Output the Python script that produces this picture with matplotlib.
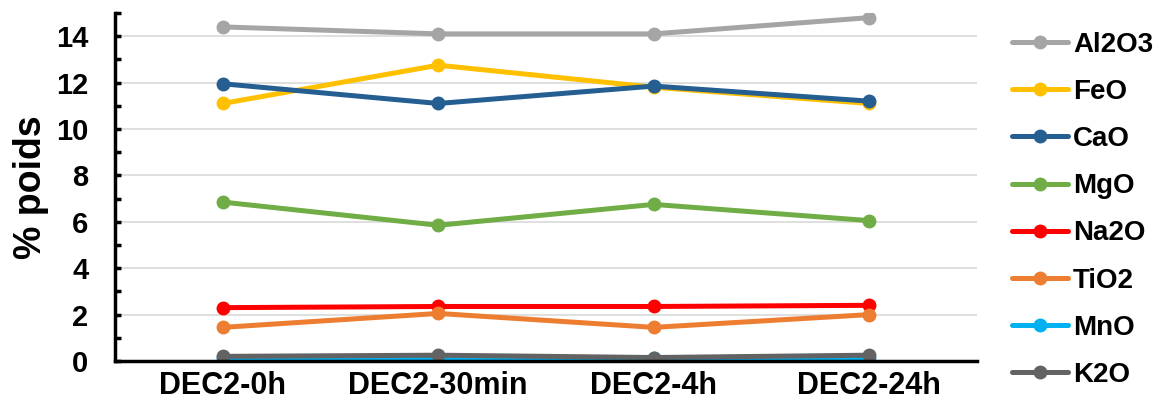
import matplotlib.pyplot as plt
from matplotlib.ticker import MultipleLocator

plt.rcParams['font.family'] = ['Liberation Sans', 'DejaVu Sans']
plt.rcParams['font.weight'] = 'bold'

samples = ["DEC2-0h", "DEC2-30min", "DEC2-4h", "DEC2-24h"]

al2o3 = [14.4, 14.1, 14.1, 14.8]
feo = [11.1, 12.75, 11.8, 11.1]
cao = [11.95, 11.1, 11.85, 11.2]
mgo = [6.85, 5.85, 6.75, 6.05]
na2o = [2.3, 2.35, 2.35, 2.4]
tio2 = [1.45, 2.05, 1.45, 2.0]
mno = [0.15, 0.15, 0.15, 0.15]
k2o = [0.2, 0.25, 0.15, 0.25]

series = [
    ("Al2O3", al2o3, "#A5A5A5"),
    ("FeO", feo, "#FFC000"),
    ("CaO", cao, "#255E91"),
    ("MgO", mgo, "#70AD47"),
    ("Na2O", na2o, "#FF0000"),
    ("TiO2", tio2, "#ED7D31"),
    ("MnO", mno, "#00B0F0"),
    ("K2O", k2o, "#636363"),
]

fig = plt.figure(figsize=(11.62, 4.15), dpi=100)
ax = fig.add_axes([115 / 1162, 54 / 415, 862 / 1162, 348 / 415])

x = list(range(len(samples)))
for name, vals, col in series:
    ax.plot(x, vals, color=col, lw=3.6, marker='o', ms=9, label=name,
            solid_capstyle='round')

ax.set_xlim(-0.5, len(samples) - 0.5)
ax.set_ylim(0, 15)
ax.yaxis.set_major_locator(MultipleLocator(2))
ax.yaxis.set_minor_locator(MultipleLocator(1))
ax.set_yticks(range(0, 15, 2))
ax.grid(axis='y', color='#D9D9D9', lw=1.2)
ax.set_axisbelow(True)

ax.set_xticks(x)
ax.set_xticklabels(samples, fontsize=22, fontweight='bold')
ax.tick_params(axis='x', length=0, pad=7)
ax.tick_params(axis='y', which='major', direction='in', length=4, width=2.5,
               labelsize=21, pad=19)
ax.tick_params(axis='y', which='minor', direction='in', length=4, width=2.5)
for lbl in ax.get_yticklabels():
    lbl.set_fontweight('bold')

for s in ['top', 'right']:
    ax.spines[s].set_visible(False)
ax.spines['left'].set_linewidth(2.5)
ax.spines['bottom'].set_linewidth(2.5)

ax.set_ylabel("% poids", fontsize=27, fontweight='bold', labelpad=5)

fig.legend(loc='upper left', bbox_to_anchor=(1012 / 1162, 1 - 32 / 415),
           frameon=False, fontsize=20, handlelength=2.0, handletextpad=0.2,
           labelspacing=0.76, borderaxespad=0, borderpad=0)

fig.savefig("out.png", dpi=100)
